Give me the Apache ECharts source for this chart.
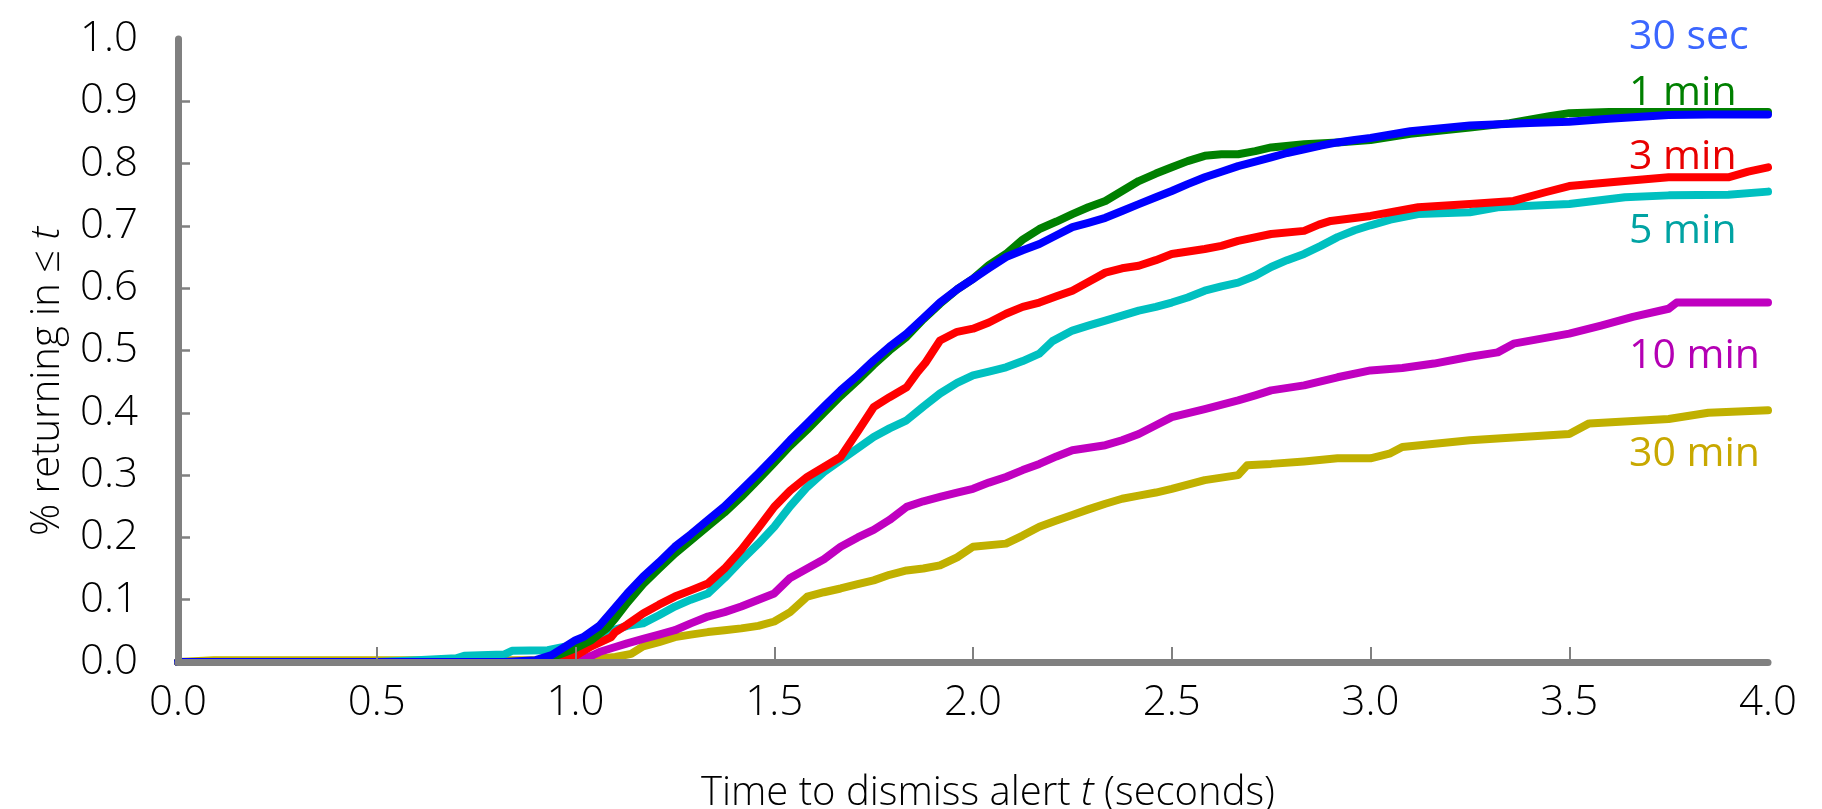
<!DOCTYPE html>
<html>
<head>
<meta charset="utf-8">
<script src="https://cdn.jsdelivr.net/npm/echarts@6/dist/echarts.min.js"></script>
<style>
html,body{margin:0;padding:0;background:#fff;}
#chart{width:1822px;height:809px;}
</style>
</head>
<body>
<div id="chart"></div>
<script>
// ---- data (time t in seconds, fraction returning) ----
const seriesNames = ['30 sec', '1 min', '3 min', '5 min', '10 min', '30 min'];
const xTicks = [0, 0.5, 1.0, 1.5, 2.0, 2.5, 3.0, 3.5, 4.0];
const yTicks = [0, 0.1, 0.2, 0.3, 0.4, 0.5, 0.6, 0.7, 0.8, 0.9, 1.0];

const sec30 = [[0,0],[0.82,0],[0.9,0.003],[0.94,0.011],[0.98,0.027],[1.0,0.035],[1.02,0.04],[1.06,0.058],[1.09,0.08],[1.13,0.11],[1.17,0.137],[1.21,0.16],[1.25,0.185],[1.29,0.205],[1.333,0.228],[1.375,0.25],[1.417,0.276],[1.46,0.303],[1.5,0.329],[1.54,0.356],[1.583,0.383],[1.625,0.41],[1.667,0.436],[1.71,0.46],[1.75,0.484],[1.79,0.506],[1.833,0.527],[1.875,0.552],[1.917,0.577],[1.96,0.598],[2.0,0.615],[2.04,0.632],[2.083,0.65],[2.125,0.661],[2.167,0.671],[2.21,0.685],[2.25,0.698],[2.29,0.705],[2.333,0.713],[2.375,0.724],[2.417,0.735],[2.46,0.746],[2.5,0.756],[2.54,0.767],[2.583,0.778],[2.625,0.787],[2.667,0.796],[2.71,0.803],[2.75,0.81],[2.79,0.817],[2.833,0.823],[2.875,0.829],[2.917,0.834],[2.96,0.838],[3.0,0.841],[3.1,0.852],[3.25,0.861],[3.4,0.865],[3.5,0.867],[3.6,0.872],[3.7,0.876],[3.75,0.878],[3.85,0.879],[4.0,0.879]];
const min1 = [[0,0],[0.9,0],[0.93,0.005],[0.96,0.012],[1.0,0.022],[1.04,0.035],[1.08,0.055],[1.1,0.07],[1.13,0.095],[1.17,0.125],[1.21,0.15],[1.25,0.174],[1.29,0.195],[1.333,0.218],[1.375,0.24],[1.417,0.265],[1.46,0.293],[1.5,0.32],[1.54,0.347],[1.583,0.373],[1.625,0.4],[1.667,0.427],[1.71,0.452],[1.75,0.477],[1.79,0.5],[1.833,0.522],[1.875,0.55],[1.917,0.575],[1.96,0.598],[2.0,0.615],[2.04,0.637],[2.083,0.655],[2.125,0.678],[2.167,0.695],[2.21,0.707],[2.25,0.719],[2.29,0.73],[2.333,0.74],[2.375,0.756],[2.417,0.772],[2.46,0.784],[2.5,0.794],[2.54,0.804],[2.583,0.8125],[2.625,0.815],[2.667,0.815],[2.71,0.82],[2.75,0.826],[2.833,0.831],[2.917,0.834],[3.0,0.838],[3.1,0.848],[3.25,0.858],[3.35,0.865],[3.45,0.876],[3.5,0.881],[3.6,0.883],[4.0,0.883]];
const min3 = [[0,0],[0.93,0],[0.96,0.003],[1.0,0.01],[1.04,0.025],[1.09,0.04],[1.1,0.048],[1.13,0.06],[1.17,0.078],[1.21,0.092],[1.25,0.105],[1.29,0.115],[1.333,0.126],[1.375,0.15],[1.417,0.18],[1.46,0.215],[1.5,0.249],[1.54,0.275],[1.583,0.297],[1.625,0.313],[1.667,0.329],[1.71,0.37],[1.75,0.409],[1.79,0.425],[1.833,0.441],[1.86,0.465],[1.88,0.48],[1.917,0.516],[1.96,0.53],[2.0,0.535],[2.04,0.545],[2.083,0.559],[2.125,0.57],[2.167,0.577],[2.21,0.587],[2.25,0.596],[2.29,0.61],[2.333,0.625],[2.375,0.632],[2.417,0.636],[2.46,0.645],[2.5,0.655],[2.583,0.663],[2.625,0.668],[2.667,0.676],[2.75,0.687],[2.833,0.692],[2.87,0.702],[2.9,0.708],[3.0,0.716],[3.12,0.73],[3.25,0.735],[3.36,0.74],[3.44,0.754],[3.5,0.764],[3.64,0.772],[3.75,0.778],[3.9,0.778],[3.95,0.787],[4.0,0.794]];
const min5 = [[0,0],[0.5,0],[0.6,0.003],[0.7,0.006],[0.72,0.01],[0.82,0.012],[0.84,0.018],[0.93,0.019],[0.97,0.024],[1.0,0.027],[1.04,0.035],[1.09,0.05],[1.13,0.058],[1.17,0.062],[1.21,0.075],[1.25,0.089],[1.29,0.1],[1.333,0.11],[1.375,0.135],[1.417,0.163],[1.46,0.19],[1.5,0.217],[1.54,0.25],[1.583,0.281],[1.625,0.305],[1.667,0.324],[1.71,0.343],[1.75,0.361],[1.79,0.375],[1.833,0.388],[1.875,0.41],[1.917,0.431],[1.96,0.448],[2.0,0.46],[2.04,0.466],[2.083,0.473],[2.125,0.483],[2.167,0.495],[2.2,0.515],[2.25,0.532],[2.29,0.54],[2.333,0.548],[2.375,0.556],[2.417,0.564],[2.46,0.57],[2.5,0.577],[2.54,0.585],[2.583,0.596],[2.625,0.603],[2.667,0.609],[2.71,0.62],[2.75,0.634],[2.79,0.645],[2.833,0.655],[2.875,0.668],[2.917,0.682],[2.96,0.693],[3.0,0.701],[3.05,0.71],[3.12,0.719],[3.25,0.722],[3.32,0.73],[3.5,0.735],[3.64,0.746],[3.75,0.749],[3.9,0.75],[4.0,0.755]];
const min10 = [[0,0],[1.0,0],[1.04,0.01],[1.06,0.016],[1.09,0.022],[1.13,0.03],[1.17,0.037],[1.21,0.044],[1.25,0.051],[1.29,0.062],[1.333,0.073],[1.375,0.08],[1.417,0.089],[1.46,0.1],[1.5,0.11],[1.54,0.135],[1.583,0.15],[1.625,0.165],[1.667,0.185],[1.71,0.2],[1.75,0.212],[1.79,0.228],[1.833,0.249],[1.875,0.258],[1.917,0.265],[1.96,0.272],[2.0,0.278],[2.04,0.288],[2.083,0.297],[2.125,0.308],[2.167,0.318],[2.21,0.33],[2.25,0.34],[2.333,0.348],[2.375,0.356],[2.417,0.366],[2.46,0.38],[2.5,0.393],[2.583,0.406],[2.667,0.42],[2.71,0.428],[2.75,0.436],[2.833,0.444],[2.917,0.457],[3.0,0.468],[3.08,0.472],[3.16,0.479],[3.25,0.49],[3.32,0.497],[3.36,0.511],[3.5,0.527],[3.58,0.54],[3.66,0.554],[3.75,0.567],[3.77,0.577],[4.0,0.577]];
const min30 = [[0,0],[0.09,0.003],[1.0,0.003],[1.05,0.005],[1.1,0.008],[1.14,0.013],[1.17,0.025],[1.21,0.032],[1.25,0.04],[1.29,0.044],[1.333,0.048],[1.375,0.051],[1.417,0.054],[1.46,0.058],[1.5,0.065],[1.54,0.08],[1.583,0.105],[1.625,0.112],[1.667,0.118],[1.71,0.125],[1.75,0.131],[1.79,0.14],[1.833,0.147],[1.875,0.15],[1.917,0.155],[1.96,0.168],[2.0,0.185],[2.083,0.19],[2.125,0.203],[2.167,0.217],[2.21,0.227],[2.25,0.236],[2.29,0.245],[2.333,0.254],[2.375,0.262],[2.417,0.267],[2.46,0.272],[2.5,0.278],[2.583,0.292],[2.667,0.3],[2.69,0.316],[2.75,0.318],[2.833,0.322],[2.917,0.327],[3.0,0.327],[3.05,0.335],[3.08,0.345],[3.25,0.356],[3.5,0.366],[3.55,0.383],[3.75,0.39],[3.85,0.4],[4.0,0.404]];

const seriesData = [sec30, min1, min3, min5, min10, min30];
const lineColors = ['#0000ff', '#008000', '#ff0000', '#00c0c0', '#c000c0', '#c0b000'];
const labelColors = ['#3b66ff', '#008000', '#e80000', '#00a3a3', '#b400b4', '#c8a800'];
const labelY = [34, 90, 154, 228, 353, 451];

const FONT = '"Open Sans", "Lato", sans-serif';
const chart = echarts.init(document.getElementById('chart'), null, {renderer: 'canvas'});

// draw order: bottom series first, blue on top
const order = [5, 4, 3, 2, 1, 0];
const series = order.map(i => ({
  name: seriesNames[i],
  type: 'line',
  data: seriesData[i],
  showSymbol: false,
  symbol: 'none',
  lineStyle: {color: lineColors[i], width: 8, join: 'round', cap: 'round'},
  itemStyle: {color: lineColors[i]},
  animation: false,
  z: 2
}));

const option = {
  animation: false,
  grid: {left: 178, right: 54, top: 39, bottom: 147, containLabel: false, outerBoundsMode: 'none'},
  xAxis: {
    type: 'value', min: 0, max: 4, interval: 0.5,
    z: 10,
    axisLine: {show: true, onZero: false, lineStyle: {color: '#808080', width: 7}},
    axisTick: {show: true, inside: true, length: 15, lineStyle: {color: '#808080', width: 2}, customValues: xTicks.slice(1, 8)},
    splitLine: {show: false},
    axisLabel: {color: '#000', fontFamily: FONT, fontWeight: 300, fontSize: 42, margin: 20,
      customValues: xTicks, formatter: v => v.toFixed(1)},
    name: 'Time to dismiss alert {i|t} (seconds)',
    nameLocation: 'middle', nameGap: 112,
    nameTextStyle: {color: '#000', fontFamily: FONT, fontWeight: 300, fontSize: 40, padding: [0, 0, 0, 30],
      rich: {i: {fontStyle: 'italic', fontFamily: FONT, fontWeight: 300, fontSize: 40, color: '#000'}}}
  },
  yAxis: {
    type: 'value', min: 0, max: 1, interval: 0.1,
    z: 10,
    axisLine: {show: true, lineStyle: {color: '#808080', width: 7}},
    axisTick: {show: true, inside: true, length: 12, lineStyle: {color: '#808080', width: 2.5}, customValues: yTicks.slice(1, 10)},
    splitLine: {show: false},
    axisLabel: {color: '#000', fontFamily: FONT, fontWeight: 300, fontSize: 42, margin: 40,
      customValues: yTicks, formatter: v => v.toFixed(1)},
    name: '% returning in ≤ {i|t}',
    nameLocation: 'middle', nameGap: 110, nameRotate: 90,
    nameTextStyle: {color: '#000', fontFamily: FONT, fontWeight: 300, fontSize: 40, padding: [0, 62, 0, 0],
      rich: {i: {fontStyle: 'italic', fontFamily: FONT, fontWeight: 300, fontSize: 40, color: '#000'}}}
  },
  graphic: seriesNames.map((n, i) => ({
    type: 'text', left: 1629, top: labelY[i] - 17, z: 20,
    style: {text: n, fill: labelColors[i], font: '400 41px ' + FONT}
  })),
  series: series
};
chart.setOption(option);
</script>
</body>
</html>
